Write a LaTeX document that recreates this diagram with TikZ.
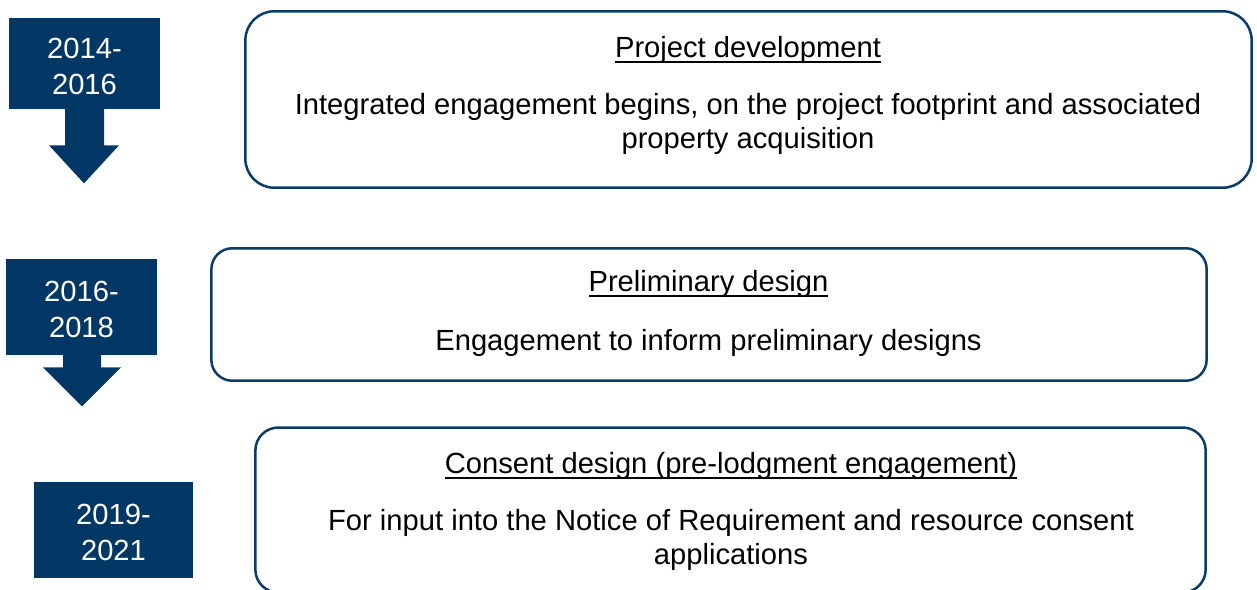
\documentclass[tikz,border=0pt]{standalone}
\usepackage{fontspec}
\setmainfont{Liberation Sans}
\usepackage{xcolor}
\definecolor{navy}{HTML}{003764}
\definecolor{edge}{HTML}{0B3C68}
\newcommand{\ulin}[1]{\setbox0\hbox{#1}\rlap{\rule[-3.35pt]{\wd0}{1.1pt}}\box0}

\begin{document}
\begin{tikzpicture}[x=0.02cm, y=-0.02cm, every node/.style={inner sep=0pt, font=\fontsize{16.6}{19.6}\selectfont}, yearbox/.style={fill=navy, text=white, align=center, text height=35pt, text depth=0pt, font=\fontsize{16.6}{20.4}\selectfont}, phase/.style={draw=edge, line width=1.42pt}, txt/.style={align=center, anchor=base}]
  \useasboundingbox (0,0) rectangle (1257,589);
  \node[yearbox, minimum width=3.02cm, minimum height=1.82cm](y1) at (84.5,63.5){2014-\\2016};
  \node[yearbox, minimum width=3.02cm, minimum height=1.92cm](y2) at (81.5,307){2016-\\2018};
  \node[yearbox, minimum width=3.18cm, minimum height=1.92cm](y3) at (113.5,530){2019-\\2021};
  \fill[navy] (y1.south) ++(-19.5,-1) -- ++(0,37) -- ++(-16,0) -- ++(35,38) -- ++(35,-38) -- ++(-15,0) -- ++(0,-37) -- cycle;
  \fill[navy] (y2.south) ++(-18.5,-1) -- ++(0,13) -- ++(-20,0) -- ++(39,39) -- ++(39,-39) -- ++(-20,0) -- ++(0,-13) -- cycle;
  \node[phase, rounded corners=0.58cm, minimum width=20.13cm, minimum height=3.53cm](dev) at (748.5,99.5){};
  \node[phase, rounded corners=0.42cm, minimum width=19.91cm, minimum height=2.65cm](prelim) at (709,314.5){};
  \node[phase, rounded corners=0.46cm, minimum width=19.01cm, minimum height=3.3cm](consent) at (730.5,510){};
  \node[txt](devtitle) at (748,57){\ulin{Project development}};
  \node[txt](devtext) at (748,148.5){Integrated engagement begins, on the project footprint and associated\\property acquisition};
  \node[txt](prelimtitle) at (708.5,291){\ulin{Preliminary design}};
  \node[txt](prelimtext) at (708.5,350){Engagement to inform preliminary designs};
  \node[txt](consenttitle) at (731,473){\ulin{Consent design (pre-lodgment engagement)}};
  \node[txt](consenttext) at (731,564.5){For input into the Notice of Requirement and resource consent\\applications};
\end{tikzpicture}
\end{document}
